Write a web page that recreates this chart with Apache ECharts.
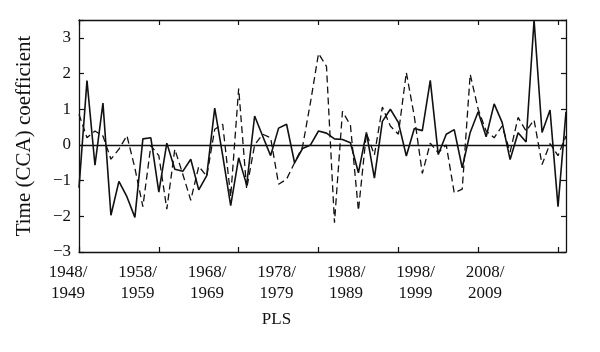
<!DOCTYPE html>
<html>
<head>
<meta charset="utf-8">
<script src="https://cdn.jsdelivr.net/npm/echarts@6/dist/echarts.min.js"></script>
<style>
  html, body { margin: 0; padding: 0; background: #fff; }
  #main { width: 600px; height: 352px; }
</style>
</head>
<body>
<div id="main"></div>
<script>
// seasons 1948/1949 ... 2009/2010 (one point per year)
let years = [1948,1949,1950,1951,1952,1953,1954,1955,1956,1957,
  1958,1959,1960,1961,1962,1963,1964,1965,1966,1967,
  1968,1969,1970,1971,1972,1973,1974,1975,1976,1977,
  1978,1979,1980,1981,1982,1983,1984,1985,1986,1987,
  1988,1989,1990,1991,1992,1993,1994,1995,1996,1997,
  1998,1999,2000,2001,2002,2003,2004,2005,2006,2007,
  2008,2009]

// solid line
let solidValues = [-1.2,1.8,-0.57,1.17,-1.97,-1.02,-1.45,-2.03,0.17,0.2,
  -1.32,0.05,-0.68,-0.74,-0.4,-1.26,-0.86,1.03,-0.3,-1.7,
  -0.36,-1.12,0.81,0.25,-0.3,0.47,0.58,-0.5,-0.1,0.0,
  0.39,0.33,0.17,0.15,0.06,-0.78,0.35,-0.93,0.66,1.0,
  0.63,-0.31,0.46,0.4,1.81,-0.27,0.3,0.43,-0.64,0.35,
  0.93,0.23,1.15,0.63,-0.41,0.34,0.08,3.5,0.35,0.98,
  -1.73,0.93]

// dashed line
let dashedValues = [0.86,0.2,0.39,0.25,-0.4,-0.12,0.26,-0.65,-1.73,-0.02,
  -0.3,-1.8,-0.12,-0.82,-1.55,-0.6,-0.88,0.44,0.58,-1.45,
  1.58,-1.23,0.0,0.3,0.2,-1.1,-0.96,-0.5,-0.05,1.2,
  2.56,2.2,-2.18,0.94,0.55,-1.84,0.33,-0.28,1.06,0.53,
  0.3,2.03,0.8,-0.8,0.05,-0.22,0.0,-1.34,-1.24,1.98,
  1.0,0.39,0.2,0.53,-0.2,0.77,0.39,0.7,-0.55,0.04,
  -0.3,0.25]

let yTicks = [-3,-2,-1,0,1,2,3]
// the season labels sit on their own evenly spaced scale (one per decade)
let labelSteps = [0,1,2,3,4,5,6]

let serif = "'Liberation Serif', 'DejaVu Serif', serif"

function renderChart(){
  var myChart = echarts.init(document.getElementById('main'))

  let tickEvery10 = function(index){ return index % 10 === 0 }
  let frame = { color: '#111', width: 1.3 }
  let tick = { color: '#111', width: 1.2 }

  var option = {
    animation: false,
    backgroundColor: '#fff',
    grid: [
      { left: 79, right: 34, top: 20, bottom: 100 },
      { left: 68, right: 115, top: 20, bottom: 100 }
    ],
    xAxis: [
      {
        type: 'category',
        gridIndex: 0,
        data: years,
        boundaryGap: false,
        position: 'bottom',
        axisLine: { show: true, onZero: false, lineStyle: frame },
        axisTick: { show: true, inside: true, length: 5, interval: tickEvery10, lineStyle: tick },
        axisLabel: { show: false },
        splitLine: { show: false }
      },
      {
        type: 'category',
        gridIndex: 0,
        data: years,
        boundaryGap: false,
        position: 'top',
        axisLine: { show: true, onZero: false, lineStyle: frame },
        axisTick: { show: true, inside: true, length: 5, interval: tickEvery10, lineStyle: tick },
        axisLabel: { show: false },
        splitLine: { show: false }
      },
      {
        type: 'value',
        gridIndex: 1,
        min: labelSteps[0],
        max: labelSteps[labelSteps.length - 1],
        interval: 1,
        position: 'bottom',
        name: 'PLS',
        nameLocation: 'middle',
        nameGap: 59,
        nameTextStyle: { fontFamily: serif, fontSize: 17, color: '#111' },
        axisLine: { show: false, onZero: false },
        axisTick: { show: false },
        axisLabel: {
          margin: 10,
          fontFamily: serif, fontSize: 17, color: '#111', lineHeight: 21,
          formatter: function(v){
            let y = years[v * 10]
            return y + '/\n' + (y + 1)
          }
        },
        splitLine: { show: false }
      }
    ],
    yAxis: [
      {
        type: 'value',
        gridIndex: 0,
        min: -3,
        max: 3.5,
        interval: 1,
        position: 'left',
        name: 'Time (CCA) coefficient',
        nameLocation: 'middle',
        nameGap: 44,
        nameTextStyle: { fontFamily: serif, fontSize: 21, color: '#111' },
        axisLine: { show: true, onZero: false, lineStyle: frame },
        axisTick: { show: true, inside: true, length: 5, lineStyle: tick },
        axisLabel: {
          margin: 8,
          fontFamily: serif, fontSize: 17, color: '#111',
          formatter: function(v){
            if (yTicks.indexOf(v) < 0) return ''
            return v < 0 ? '\u2212' + Math.abs(v) : String(v)
          }
        },
        splitLine: { show: false }
      },
      {
        type: 'value',
        gridIndex: 0,
        min: -3,
        max: 3.5,
        interval: 1,
        position: 'right',
        axisLine: { show: true, onZero: false, lineStyle: frame },
        axisTick: { show: true, inside: true, length: 5, lineStyle: tick },
        axisLabel: { show: false },
        splitLine: { show: false }
      },
      {
        type: 'value',
        gridIndex: 1,
        show: false
      }
    ],
    series: [
      {
        name: 'dashed',
        type: 'line',
        xAxisIndex: 0,
        yAxisIndex: 0,
        data: dashedValues,
        symbol: 'none',
        lineStyle: { color: '#111', width: 1.3, type: [7, 4] },
        z: 2
      },
      {
        name: 'solid',
        type: 'line',
        xAxisIndex: 0,
        yAxisIndex: 0,
        data: solidValues,
        symbol: 'none',
        lineStyle: { color: '#111', width: 1.6 },
        z: 3,
        markLine: {
          silent: true,
          symbol: 'none',
          label: { show: false },
          lineStyle: { color: '#111', width: 1.3, type: 'solid' },
          data: [{ yAxis: 0 }]
        }
      }
    ]
  }

  myChart.setOption(option)
}

renderChart()
</script>
</body>
</html>
